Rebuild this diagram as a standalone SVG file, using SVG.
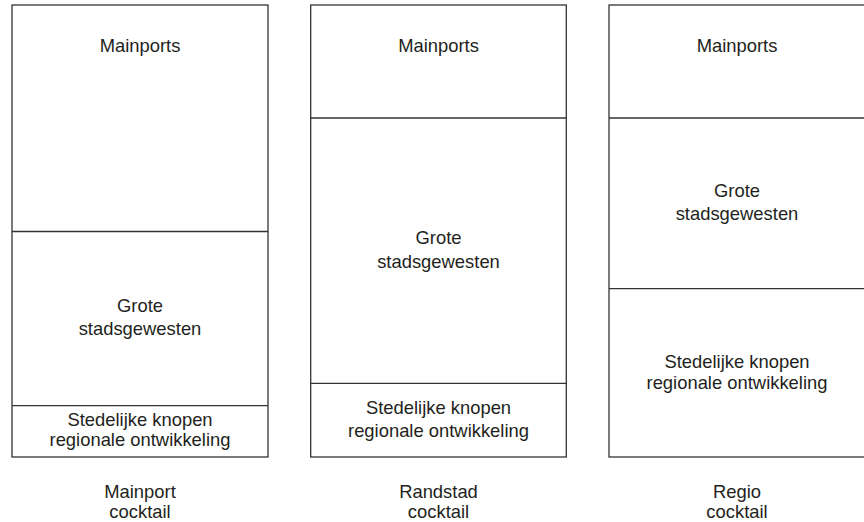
<svg xmlns="http://www.w3.org/2000/svg" width="864" height="522" viewBox="0 0 864 522">
<style>
.box{fill:#fff;stroke:#333;stroke-width:1.3}
.div{stroke:#333;stroke-width:1.3;fill:none}
text{font-family:"Liberation Sans",Arial,Helvetica,sans-serif;font-size:18.4px;fill:#231f20;text-anchor:middle}
</style>
<rect width="864" height="522" fill="#fff"/>
<g id="mainport-cocktail">
<rect class="box" x="12" y="5" width="256" height="452"/>
<g id="mc-mainports"><text x="140" y="52">Mainports</text></g>
<g id="mc-grote"><text x="140" y="312">Grote</text><text x="140" y="335">stadsgewesten</text></g>
<g id="mc-stedelijk"><text x="140" y="426">Stedelijke knopen</text><text x="140" y="446">regionale ontwikkeling</text></g>
<g id="mc-label"><text x="140" y="498">Mainport</text><text x="140" y="518">cocktail</text></g>
</g>
<g id="randstad-cocktail">
<rect class="box" x="310.7" y="5" width="255.6" height="452"/>
<g id="rc-mainports"><text x="438.5" y="52">Mainports</text></g>
<g id="rc-grote"><text x="438.5" y="243.5">Grote</text><text x="438.5" y="267.5">stadsgewesten</text></g>
<g id="rc-stedelijk"><text x="438.5" y="414">Stedelijke knopen</text><text x="438.5" y="436.5">regionale ontwikkeling</text></g>
<g id="rc-label"><text x="438.5" y="497.5">Randstad</text><text x="438.5" y="518">cocktail</text></g>
</g>
<g id="regio-cocktail">
<rect class="box" x="609" y="5" width="256" height="452"/>
<g id="re-mainports"><text x="737" y="52">Mainports</text></g>
<g id="re-grote"><text x="737" y="197">Grote</text><text x="737" y="220">stadsgewesten</text></g>
<g id="re-stedelijk"><text x="737" y="367.5">Stedelijke knopen</text><text x="737" y="388.5">regionale ontwikkeling</text></g>
<g id="re-label"><text x="737" y="497.5">Regio</text><text x="737" y="518">cocktail</text></g>
</g>
<g id="connectors">
<line class="div" x1="12" y1="231.5" x2="268" y2="231.5"/>
<line class="div" x1="12" y1="405.7" x2="268" y2="405.7"/>
<line class="div" x1="310.7" y1="118" x2="566.3" y2="118"/>
<line class="div" x1="310.7" y1="383.3" x2="566.3" y2="383.3"/>
<line class="div" x1="609" y1="118" x2="865" y2="118"/>
<line class="div" x1="609" y1="288.7" x2="865" y2="288.7"/>
</g>
</svg>
